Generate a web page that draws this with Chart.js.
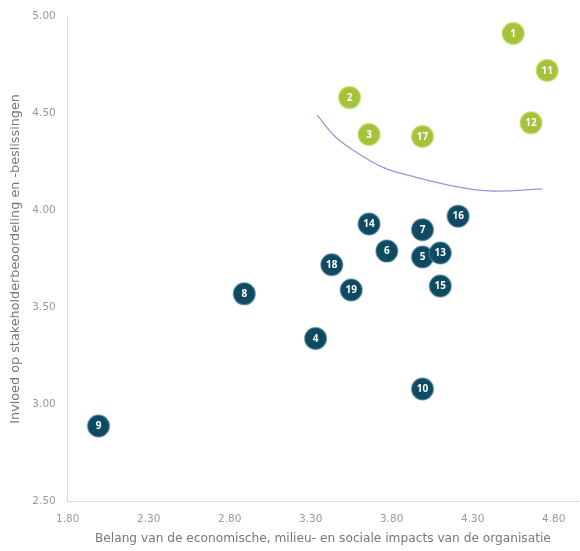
<!DOCTYPE html>
<html>
<head>
<meta charset="utf-8">
<script src="https://cdn.jsdelivr.net/npm/chart.js@4.4.1/dist/chart.umd.min.js"></script>
<style>
  html, body { margin: 0; padding: 0; background: #fff; overflow: hidden; }
  #wrap { width: 580px; height: 551px; position: relative; }
</style>
</head>
<body>
<div id="wrap"><canvas id="materialityChart"></canvas></div>
<script>
// issue numbers with their scores
const issueIds   = [1, 2, 3, 4, 5, 6, 7, 8, 9, 10, 11, 12, 13, 14, 15, 16, 17, 18, 19];
const importance = [4.55, 3.54, 3.66, 3.33, 3.99, 3.77, 3.99, 2.89, 1.99, 3.99, 4.76, 4.66, 4.10, 3.66, 4.10, 4.21, 3.99, 3.43, 3.55];
const influence  = [4.91, 4.58, 4.39, 3.34, 3.76, 3.79, 3.90, 3.57, 2.89, 3.08, 4.72, 4.45, 3.78, 3.93, 3.61, 3.97, 4.38, 3.72, 3.59];
// issues above the threshold curve
const materialIds = [1, 2, 3, 11, 12, 17];

// threshold curve
const curveX = [3.34, 3.45, 3.58, 3.75, 3.95, 4.15, 4.40, 4.73];
const curveY = [4.49, 4.38, 4.30, 4.22, 4.17, 4.13, 4.10, 4.11];

const xTicks = [1.8, 2.3, 2.8, 3.3, 3.8, 4.3, 4.8];
const yTicks = [2.5, 3.0, 3.5, 4.0, 4.5, 5.0];

const greenPts = [], bluePts = [];
issueIds.forEach((id, i) => {
    const p = { x: importance[i], y: influence[i], id: id };
    if (materialIds.includes(id)) greenPts.push(p); else bluePts.push(p);
});

// draw the issue number in each bubble
const labelPlugin = {
    id: 'bubbleLabels',
    afterDatasetsDraw(chart) {
        const ctx = chart.ctx;
        ctx.save();
        ctx.fillStyle = '#ffffff';
        ctx.font = 'bold 10px "Open Sans", sans-serif';
        ctx.textAlign = 'center';
        ctx.textBaseline = 'middle';
        [1, 2].forEach(di => {
            const ds = chart.data.datasets[di];
            chart.getDatasetMeta(di).data.forEach((el, j) => {
                ctx.fillText(String(ds.data[j].id), el.x, el.y + 0.5);
            });
        });
        ctx.restore();
    }
};

const tickFont = { family: '"DejaVu Sans", sans-serif', size: 10.5 };

new Chart(document.getElementById('materialityChart'), {
    type: 'scatter',
    data: {
        datasets: [
            {
                type: 'line',
                data: curveX.map((x, i) => ({ x: x, y: curveY[i] })),
                borderColor: '#8d9cd4',
                borderWidth: 1.3,
                pointRadius: 0,
                tension: 0.4,
                fill: false
            },
            {
                data: greenPts,
                backgroundColor: '#a5c33a',
                borderColor: 'rgba(200,225,120,0.6)',
                borderWidth: 1.5,
                pointRadius: 11,
                pointHoverRadius: 11
            },
            {
                data: bluePts,
                backgroundColor: '#0f4a63',
                borderColor: 'rgba(90,140,160,0.5)',
                borderWidth: 1.5,
                pointRadius: 11,
                pointHoverRadius: 11
            }
        ]
    },
    options: {
        responsive: true,
        maintainAspectRatio: false,
        animation: false,
        layout: { autoPadding: false, padding: { top: 16, right: 2, left: 8, bottom: 5 } },
        plugins: {
            legend: { display: false },
            tooltip: { enabled: false }
        },
        scales: {
            x: {
                type: 'linear',
                min: 1.8,
                max: 4.95,
                afterBuildTicks: (scale) => { scale.ticks = xTicks.map(v => ({ value: v })); },
                grid: { display: false },
                border: { display: true, color: '#d9d9d9', width: 1 },
                ticks: {
                    color: '#999999',
                    font: tickFont,
                    padding: 3,
                    callback: (v) => Number(v).toFixed(2)
                },
                title: {
                    display: true,
                    text: 'Belang van de economische, milieu- en sociale impacts van de organisatie',
                    color: '#777777',
                    font: { family: '"DejaVu Sans", sans-serif', size: 12.2 },
                    padding: { top: 3, bottom: 0 }
                }
            },
            y: {
                type: 'linear',
                min: 2.5,
                max: 5.0,
                afterBuildTicks: (scale) => { scale.ticks = yTicks.map(v => ({ value: v })); },
                grid: { display: false },
                border: { display: true, color: '#d9d9d9', width: 1 },
                ticks: {
                    color: '#999999',
                    font: tickFont,
                    padding: 4,
                    callback: (v) => Number(v).toFixed(2)
                },
                title: {
                    display: true,
                    text: 'Invloed op stakeholderbeoordeling en -beslissingen',
                    color: '#777777',
                    font: { family: '"DejaVu Sans", sans-serif', size: 12.8 },
                    padding: { top: 0, bottom: 5 }
                }
            }
        }
    },
    plugins: [labelPlugin]
});
</script>
</body>
</html>
